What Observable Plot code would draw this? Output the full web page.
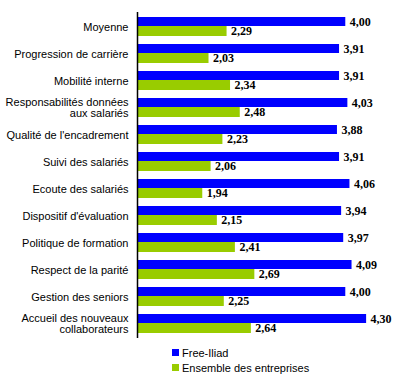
<!DOCTYPE html>
<html>
<head>
<meta charset="utf-8">
<script src="https://cdn.jsdelivr.net/npm/d3@7"></script>
<script src="https://cdn.jsdelivr.net/npm/@observablehq/plot@0.6"></script>
<style>
  html, body { margin: 0; padding: 0; background: #fff; }
  #wrap { position: relative; width: 395px; height: 378px; }
  #legend { position: absolute; left: 172px; top: 345px; font: 11px "Liberation Sans", Arial, sans-serif; color: #000; }
  #legend .row { display: flex; align-items: center; height: 15px; }
  #legend .sw { width: 7px; height: 7px; margin-right: 3px; }
</style>
</head>
<body>
<div id="wrap"></div>
<script>
const categories = [
  "Moyenne",
  "Progression de carrière",
  "Mobilité interne",
  "Responsabilités données\naux salariés",
  "Qualité de l'encadrement",
  "Suivi des salariés",
  "Ecoute des salariés",
  "Dispositif d'évaluation",
  "Politique de formation",
  "Respect de la parité",
  "Gestion des seniors",
  "Accueil des nouveaux\ncollaborateurs"
];
const seriesNames = ["Free-Iliad", "Ensemble des entreprises"];
const seriesColors = ["#0000ff", "#99cc00"];
const freeIliad = [4.00, 3.91, 3.91, 4.03, 3.88, 3.91, 4.06, 3.94, 3.97, 4.09, 4.00, 4.30];
const ensemble  = [2.29, 2.03, 2.34, 2.48, 2.23, 2.06, 1.94, 2.15, 2.41, 2.69, 2.25, 2.64];
const xDomain = [1, 4.5];

const rowsA = categories.map((c, i) => ({category: c, value: freeIliad[i], series: seriesNames[0]}));
const rowsB = categories.map((c, i) => ({category: c, value: ensemble[i], series: seriesNames[1]}));
const fmt = v => v.toFixed(2).replace(".", ",");
const labelFont = {fontFamily: "'Liberation Serif', 'Times New Roman', serif", fontWeight: "bold", fontSize: 12};

const chart = Plot.plot({
  width: 395,
  height: 340,
  marginLeft: 137,
  marginRight: 15,
  marginTop: 12,
  marginBottom: 2,
  style: {fontFamily: "'Liberation Sans', Arial, sans-serif", fontSize: "11px", color: "#000", background: "#fff", overflow: "visible"},
  x: {domain: xDomain, axis: null},
  y: {domain: categories, paddingInner: 0.306, paddingOuter: 0.11, label: null, tickSize: 0, tickPadding: 9},
  marks: [
    Plot.barX(rowsA, {y: "category", x1: () => xDomain[0], x2: "value", fill: seriesColors[0], insetBottom: 10}),
    Plot.barX(rowsB, {y: "category", x1: () => xDomain[0], x2: "value", fill: seriesColors[1], insetTop: 9}),
    Plot.text(rowsA, {y: "category", x: "value", text: d => fmt(d.value), textAnchor: "start", dx: 4, dy: -5, fill: "#000", ...labelFont}),
    Plot.text(rowsB, {y: "category", x: "value", text: d => fmt(d.value), textAnchor: "start", dx: 4, dy: 4.5, fill: "#000", ...labelFont}),
    Plot.ruleX([xDomain[0]], {stroke: "#000", strokeWidth: 1.5})
  ]
});
const wrap = document.getElementById("wrap");
wrap.appendChild(chart);

const legend = document.createElement("div");
legend.id = "legend";
seriesNames.forEach((name, i) => {
  const row = document.createElement("div");
  row.className = "row";
  const sw = document.createElement("span");
  sw.className = "sw";
  sw.style.background = seriesColors[i];
  const t = document.createElement("span");
  t.textContent = name;
  row.appendChild(sw);
  row.appendChild(t);
  legend.appendChild(row);
});
wrap.appendChild(legend);
</script>
</body>
</html>
